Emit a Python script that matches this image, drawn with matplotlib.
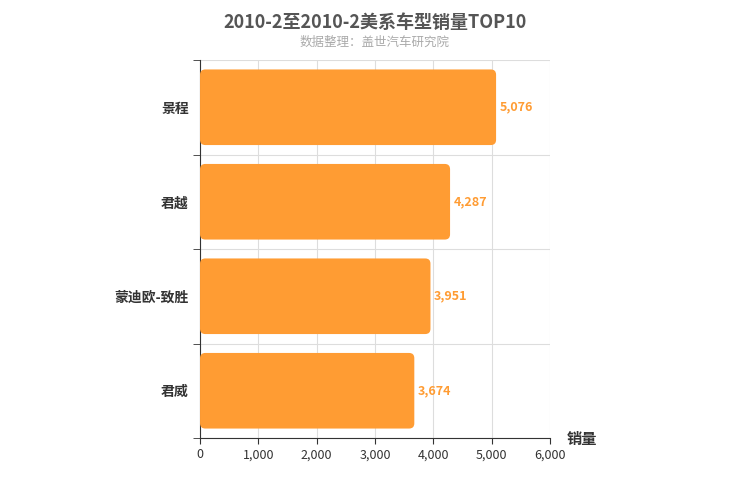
import matplotlib
matplotlib.use("Agg")
import matplotlib.pyplot as plt
from matplotlib.patches import FancyBboxPatch

plt.rcParams['font.family'] = ['Noto Sans CJK SC', 'DejaVu Sans']

categories = ["景程", "君越", "蒙迪欧-致胜", "君威"]
values = [5076, 4287, 3951, 3674]
xticks = [0, 1000, 2000, 3000, 4000, 5000, 6000]

fig = plt.figure(figsize=(7.5, 5), dpi=100)
ax = fig.add_axes([0.2667, 0.124, 0.4666, 0.756])
n = len(categories)
ax.set_xlim(0, 6000)
ax.set_ylim(n - 0.5, -0.5)
color = "#ff9c33"
h = 0.8
for i, v in enumerate(values):
    p = FancyBboxPatch((0, i - h / 2), v, h,
                       boxstyle="round,pad=0,rounding_size=90",
                       mutation_aspect=0.000617, fc=color, ec="none", zorder=3)
    ax.add_patch(p)
    ax.text(v + 60, i, f"{v:,}", va="center", ha="left", color=color,
            fontsize=9, fontweight="bold", zorder=4)

ax.set_yticks(range(n))
ax.set_yticklabels(categories, fontsize=10, fontweight="bold", color="#333333")
ax.set_yticks([i + 0.5 for i in range(-1, n)], minor=True)
ax.tick_params(axis='y', which='major', length=0, pad=8)
ax.tick_params(axis='y', which='minor', length=5, color="#333333")
ax.set_xticks(xticks)
ax.set_xticklabels([f"{x:,}" for x in xticks], fontsize=9, color="#333333")
ax.tick_params(axis='x', length=4, color="#333333")
ax.grid(axis='x', color="#dddddd", lw=0.8, zorder=0)
ax.grid(axis='y', which='minor', color="#dddddd", lw=0.8, zorder=0)
for s in ["top", "right"]:
    ax.spines[s].set_visible(False)
ax.spines["left"].set_color("#333333")
ax.spines["bottom"].set_color("#333333")

fig.text(0.5, 0.955, "2010-2至2010-2美系车型销量TOP10", ha="center", va="center",
         fontsize=13, fontweight="bold", color="#555555")
fig.text(0.5, 0.915, "数据整理：盖世汽车研究院", ha="center", va="center",
         fontsize=9, color="#aaaaaa")
fig.text(0.755, 0.122, "销量", ha="left", va="center", fontsize=11,
         fontweight="bold", color="#333333")
fig.savefig("out.png", dpi=100)
